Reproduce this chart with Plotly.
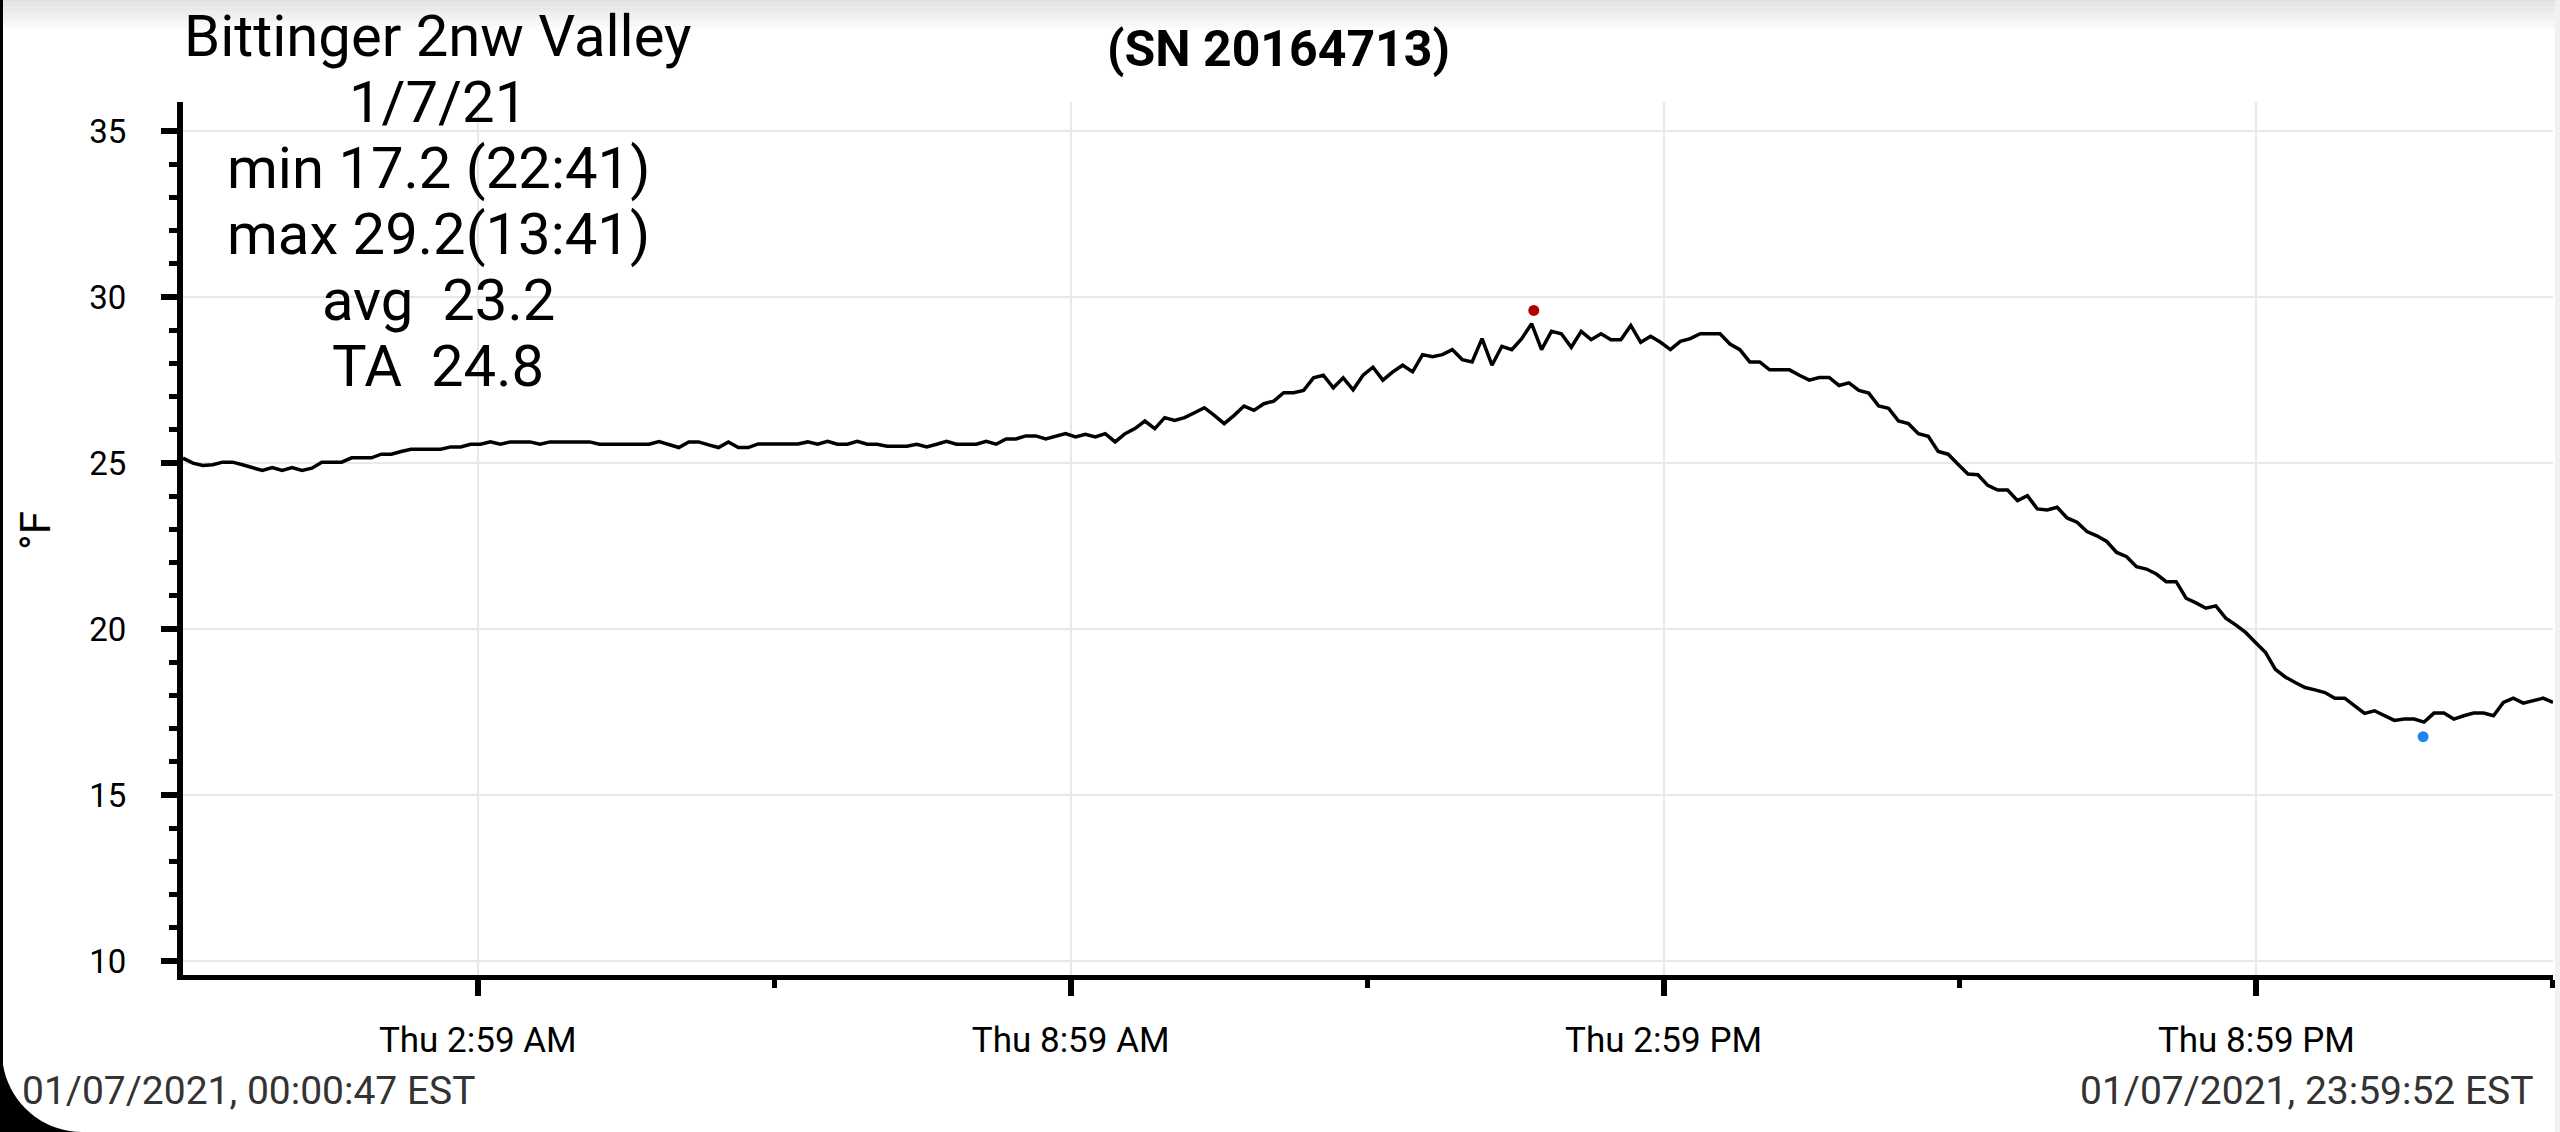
import math
import pandas as pd
import plotly.graph_objects as go

# logger readings, 240 evenly spaced samples over the day (deg F)
first_reading = "2021-01-07 00:00:47"
last_reading = "2021-01-07 23:59:52"
temps_f = [
    25.15, 25.0, 24.93, 24.95, 25.03, 25.03, 24.95, 24.87, 24.78, 24.87,
    24.78, 24.87, 24.78, 24.85, 25.03, 25.03, 25.03, 25.16, 25.16, 25.16,
    25.27, 25.27, 25.35, 25.42, 25.42, 25.42, 25.42, 25.49, 25.49, 25.57,
    25.57, 25.64, 25.57, 25.64, 25.64, 25.64, 25.57, 25.64, 25.64, 25.64,
    25.64, 25.64, 25.57, 25.57, 25.57, 25.57, 25.57, 25.57, 25.65, 25.57,
    25.47, 25.64, 25.64, 25.55, 25.47, 25.64, 25.47, 25.47, 25.58, 25.58,
    25.58, 25.58, 25.58, 25.64, 25.57, 25.66, 25.57, 25.57, 25.66, 25.57,
    25.57, 25.51, 25.51, 25.51, 25.57, 25.49, 25.57, 25.66, 25.57, 25.57,
    25.57, 25.66, 25.57, 25.73, 25.73, 25.82, 25.82, 25.73, 25.82, 25.89,
    25.79, 25.87, 25.79, 25.89, 25.64, 25.89, 26.04, 26.27, 26.04, 26.37,
    26.29, 26.37, 26.52, 26.67, 26.44, 26.19, 26.44, 26.72, 26.59, 26.79,
    26.87, 27.12, 27.12, 27.19, 27.57, 27.65, 27.27, 27.57, 27.21, 27.65,
    27.89, 27.5, 27.75, 27.95, 27.75, 28.27, 28.21, 28.27, 28.42, 28.12,
    28.05, 28.75, 27.95, 28.52, 28.42, 28.75, 29.2, 28.42, 28.97, 28.9,
    28.49, 28.97, 28.72, 28.9, 28.72, 28.72, 29.15, 28.64, 28.82, 28.64,
    28.42, 28.67, 28.75, 28.9, 28.9, 28.9, 28.59, 28.42, 28.05, 28.05,
    27.81, 27.81, 27.81, 27.65, 27.5, 27.58, 27.58, 27.34, 27.42, 27.19,
    27.11, 26.72, 26.65, 26.27, 26.19, 25.89, 25.81, 25.35, 25.27, 24.97,
    24.67, 24.65, 24.33, 24.19, 24.19, 23.87, 24.02, 23.62, 23.59, 23.67,
    23.35, 23.22, 22.94, 22.81, 22.64, 22.31, 22.18, 21.88, 21.81, 21.66,
    21.43, 21.43, 20.93, 20.79, 20.63, 20.7, 20.33, 20.13, 19.9, 19.6,
    19.3, 18.79, 18.56, 18.39, 18.24, 18.17, 18.09, 17.92, 17.92, 17.69,
    17.46, 17.54, 17.39, 17.25, 17.29, 17.29, 17.2, 17.47, 17.47, 17.29,
    17.39, 17.47, 17.47, 17.39, 17.79, 17.92, 17.77, 17.84, 17.92, 17.79,
]
times = pd.date_range(first_reading, last_reading, periods=len(temps_f))

# max / min dots
max_time = ["2021-01-07 13:41"]
max_dot = [29.6]
min_time = ["2021-01-07 22:41"]
min_dot = [16.76]

y_range = [9.58, 35.88]

major_tick_times = ["2021-01-07 02:59:47", "2021-01-07 08:59:47",
                    "2021-01-07 14:59:47", "2021-01-07 20:59:47"]
major_tick_labels = ["Thu 2:59 AM", "Thu 8:59 AM", "Thu 2:59 PM", "Thu 8:59 PM"]
minor_tick_times = ["2021-01-07 05:59:47", "2021-01-07 11:59:47",
                    "2021-01-07 17:59:47", "2021-01-07 23:59:47"]
y_ticks = [10, 15, 20, 25, 30, 35]

title_text = "<b>(SN 20164713)</b>"
info_lines = ["Bittinger 2nw Valley", "1/7/21", "min 17.2 (22:41)",
              "max 29.2(13:41)", "avg\u00a0 23.2", "TA\u00a0 24.8"]
y_title = "°F"
start_label = "01/07/2021, 00:00:47 EST"
end_label = "01/07/2021, 23:59:52 EST"

W, H = 2560, 1132
PX0, PX1, PY0, PY1 = 183, 2553, 102, 975  # plot box in pixels


def px_x(p):
    return (p - PX0) / (PX1 - PX0)


def px_y(p):
    return (PY1 - p) / (PY1 - PY0)


FONT = "Roboto"

fig = go.Figure()
fig.add_trace(go.Scatter(x=times, y=temps_f, mode="lines", line=dict(color="black", width=3.5),
                         hoverinfo="skip", showlegend=False))
fig.add_trace(go.Scatter(x=max_time, y=max_dot, mode="markers",
                         marker=dict(color="#b00000", size=11), showlegend=False))
fig.add_trace(go.Scatter(x=min_time, y=min_dot, mode="markers",
                         marker=dict(color="#1f86f0", size=11), showlegend=False))

fig.update_xaxes(type="date", range=[times[0], times[-1]], tickmode="array", tickvals=major_tick_times,
                 ticktext=major_tick_labels, ticks="outside", ticklen=16, tickwidth=6, tickcolor="black",
                 showline=True, linewidth=5, linecolor="black", showgrid=True, gridcolor="#e8e8e8",
                 gridwidth=2, zeroline=False, tickfont=dict(family=FONT, size=35, color="black"),
                 ticklabelstandoff=14, automargin=False,
                 minor=dict(tickmode="array", tickvals=minor_tick_times, ticks="outside", ticklen=8,
                            tickwidth=5, tickcolor="black", showgrid=False))
fig.update_yaxes(range=y_range, tickmode="array", tickvals=y_ticks, ticks="outside", ticklen=16,
                 tickwidth=6, tickcolor="black", showline=True, linewidth=6, linecolor="black",
                 showgrid=True, gridcolor="#e8e8e8", gridwidth=2, zeroline=False, automargin=False,
                 tickfont=dict(family=FONT, size=33, color="black"), ticklabelstandoff=28,
                 minor=dict(dtick=1, tick0=0, ticks="outside", ticklen=8, tickwidth=5,
                            tickcolor="black", showgrid=False))

# info block: one text per line, line pitch as in the source app
info_size = 58
info_pitch = 66
annotations = [
    dict(text=title_text, x=px_x(1278), y=px_y(49), xref="paper", yref="paper",
         xanchor="center", yanchor="middle", showarrow=False,
         font=dict(family=FONT, size=50, color="black")),
    dict(text=y_title, x=px_x(35), y=px_y(531), xref="paper", yref="paper",
         xanchor="center", yanchor="middle", showarrow=False, textangle=-90,
         font=dict(family=FONT, size=42, color="black")),
    dict(text=start_label, x=px_x(20), y=px_y(1091), xref="paper", yref="paper",
         xanchor="left", yanchor="middle", showarrow=False,
         font=dict(family=FONT, size=39, color="#333333")),
    dict(text=end_label, x=px_x(2536), y=px_y(1091), xref="paper", yref="paper",
         xanchor="right", yanchor="middle", showarrow=False,
         font=dict(family=FONT, size=39, color="#333333")),
]
for i, line in enumerate(info_lines):
    annotations.append(dict(text=line, x=px_x(438), y=px_y(36 + i * info_pitch), xref="paper",
                            yref="paper", xanchor="center", yanchor="middle", showarrow=False,
                            font=dict(family=FONT, size=info_size, color="black")))

# screenshot frame: top shadow, left edge, rounded bottom-left corner
shapes = []
n_bands = 12
for i in range(n_bands):
    g = int(226 + (255 - 226) * i / n_bands)
    shapes.append(dict(type="rect", xref="paper", yref="paper", x0=px_x(0), x1=px_x(W),
                       y0=px_y(i * 2.5), y1=px_y((i + 1) * 2.5), line=dict(width=0),
                       fillcolor=f"rgb({g},{g},{g})", layer="below"))
shapes.append(dict(type="rect", xref="paper", yref="paper", x0=px_x(2555), x1=px_x(W),
                   y0=px_y(0), y1=px_y(H), line=dict(width=0), fillcolor="#f1f1f1", layer="below"))
shapes.append(dict(type="rect", xref="paper", yref="paper", x0=px_x(0), x1=px_x(3),
                   y0=px_y(0), y1=px_y(H), line=dict(width=0), fillcolor="black"))
pts = [(0, 1052)]
for i in range(21):
    a = math.radians(90 * i / 20)
    pts.append((82 - 80 * math.cos(a), 1052 + 80 * math.sin(a)))
pts += [(82, H), (0, H)]
path = "M " + " L ".join(f"{px_x(px):.5f},{px_y(py):.5f}" for px, py in pts) + " Z"
shapes.append(dict(type="path", xref="paper", yref="paper", path=path, line=dict(width=0),
                   fillcolor="black"))

fig.update_layout(width=W, height=H, autosize=False, plot_bgcolor="white", paper_bgcolor="white",
                  margin=dict(l=PX0, r=W - PX1, t=PY0, b=H - PY1, pad=0),
                  annotations=annotations, shapes=shapes, showlegend=False,
                  font=dict(family=FONT, color="black"))

fig.write_html("out.html", config={"displayModeBar": False},
               post_script="document.body.style.margin='0';document.body.style.overflow='hidden';")
